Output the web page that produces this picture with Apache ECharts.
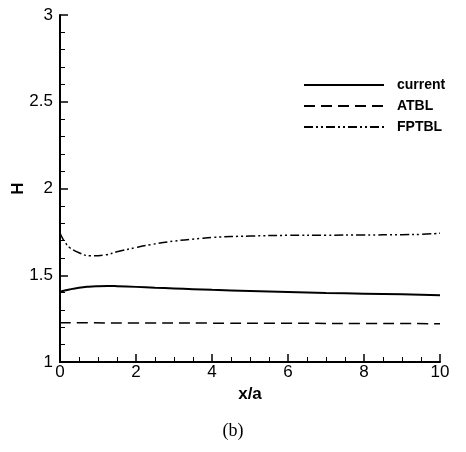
<!DOCTYPE html>
<html><head><meta charset="utf-8">
<script src="https://cdn.jsdelivr.net/npm/echarts@6/dist/echarts.min.js"></script>
<style>html,body{margin:0;padding:0;background:#fff}#c{width:466px;height:452px}</style>
</head><body><div id="c"></div>
<script>
var xCurrent = [0,0.25,0.5,0.75,1,1.25,1.5,2,2.5,3,3.5,4,5,6,7,8,9,9.5,10];
var current  = [1.405,1.418,1.428,1.434,1.437,1.438,1.437,1.433,1.428,1.424,1.420,1.416,1.409,1.403,1.398,1.394,1.390,1.388,1.385];
var xAtbl = [0,2,4,6,8,10];
var atbl  = [1.226,1.225,1.224,1.223,1.222,1.221];
var xFptbl = [0,0.05,0.15,0.25,0.5,0.8,1.2,1.5,2,2.4,3,3.7,4,5,6,7,8,9,9.5,10];
var fptbl  = [1.745,1.72,1.685,1.66,1.63,1.612,1.618,1.635,1.66,1.677,1.697,1.712,1.718,1.726,1.730,1.731,1.732,1.734,1.736,1.742];
var seriesNames = ['current','ATBL','FPTBL'];

function pairs(xs, ys){ return xs.map(function(x,i){ return [x, ys[i]]; }); }
var chart = echarts.init(document.getElementById('c'));
var F = 'Liberation Sans, Arial, sans-serif';
chart.setOption({
  animation:false,
  grid:{left:60,right:26,top:15,bottom:90,containLabel:false,outerBoundsMode:'none'},
  legend:{
    orient:'vertical', left:298, top:73, itemWidth:80, itemHeight:10, itemGap:7,
    itemStyle:{opacity:0},
    textStyle:{fontFamily:F,fontWeight:'bold',fontSize:14,color:'#000',padding:[0,0,0,8]},
    data:seriesNames
  },
  title:{text:'(b)',left:'center',top:417,textStyle:{fontFamily:'Liberation Serif, serif',fontWeight:'normal',fontSize:18,color:'#000'}},
  xAxis:{type:'value',min:0,max:10,interval:2,name:'x/a',nameLocation:'middle',nameGap:16,
    nameTextStyle:{fontFamily:F,fontWeight:'bold',fontSize:17,color:'#000'},
    axisLine:{lineStyle:{color:'#000',width:2}},
    axisTick:{inside:true,length:8,lineStyle:{color:'#000',width:1.5}},
    minorTick:{show:true,splitNumber:4,length:5,lineStyle:{color:'#000',width:1}},
    splitLine:{show:false},
    axisLabel:{fontFamily:F,fontSize:17,color:'#000',margin:2}},
  yAxis:{type:'value',min:1,max:3,interval:0.5,name:'H',nameLocation:'middle',nameGap:33,nameMoveOverlap:false,
    nameTextStyle:{fontFamily:F,fontWeight:'bold',fontSize:17,color:'#000'},
    axisLine:{show:true,lineStyle:{color:'#000',width:2}},
    axisTick:{show:true,inside:true,length:8,lineStyle:{color:'#000',width:1.5}},
    minorTick:{show:true,splitNumber:5,length:5,lineStyle:{color:'#000',width:1}},
    splitLine:{show:false},
    axisLabel:{fontFamily:F,fontSize:17,color:'#000',margin:7,formatter:function(v){return String(v);}}},
  series:[
    {name:'current',type:'line',smooth:true,symbol:'none',data:pairs(xCurrent,current),
      lineStyle:{color:'#000',width:2,type:'solid'},itemStyle:{color:'#000'}},
    {name:'ATBL',type:'line',smooth:true,symbol:'none',data:pairs(xAtbl,atbl),
      lineStyle:{color:'#000',width:1.5,type:[11,6]},itemStyle:{color:'#000'}},
    {name:'FPTBL',type:'line',smooth:true,symbol:'none',data:pairs(xFptbl,fptbl),
      lineStyle:{color:'#000',width:1.5,type:[9,3,2,3,2,3]},itemStyle:{color:'#000'}}
  ]
});
</script></body></html>
